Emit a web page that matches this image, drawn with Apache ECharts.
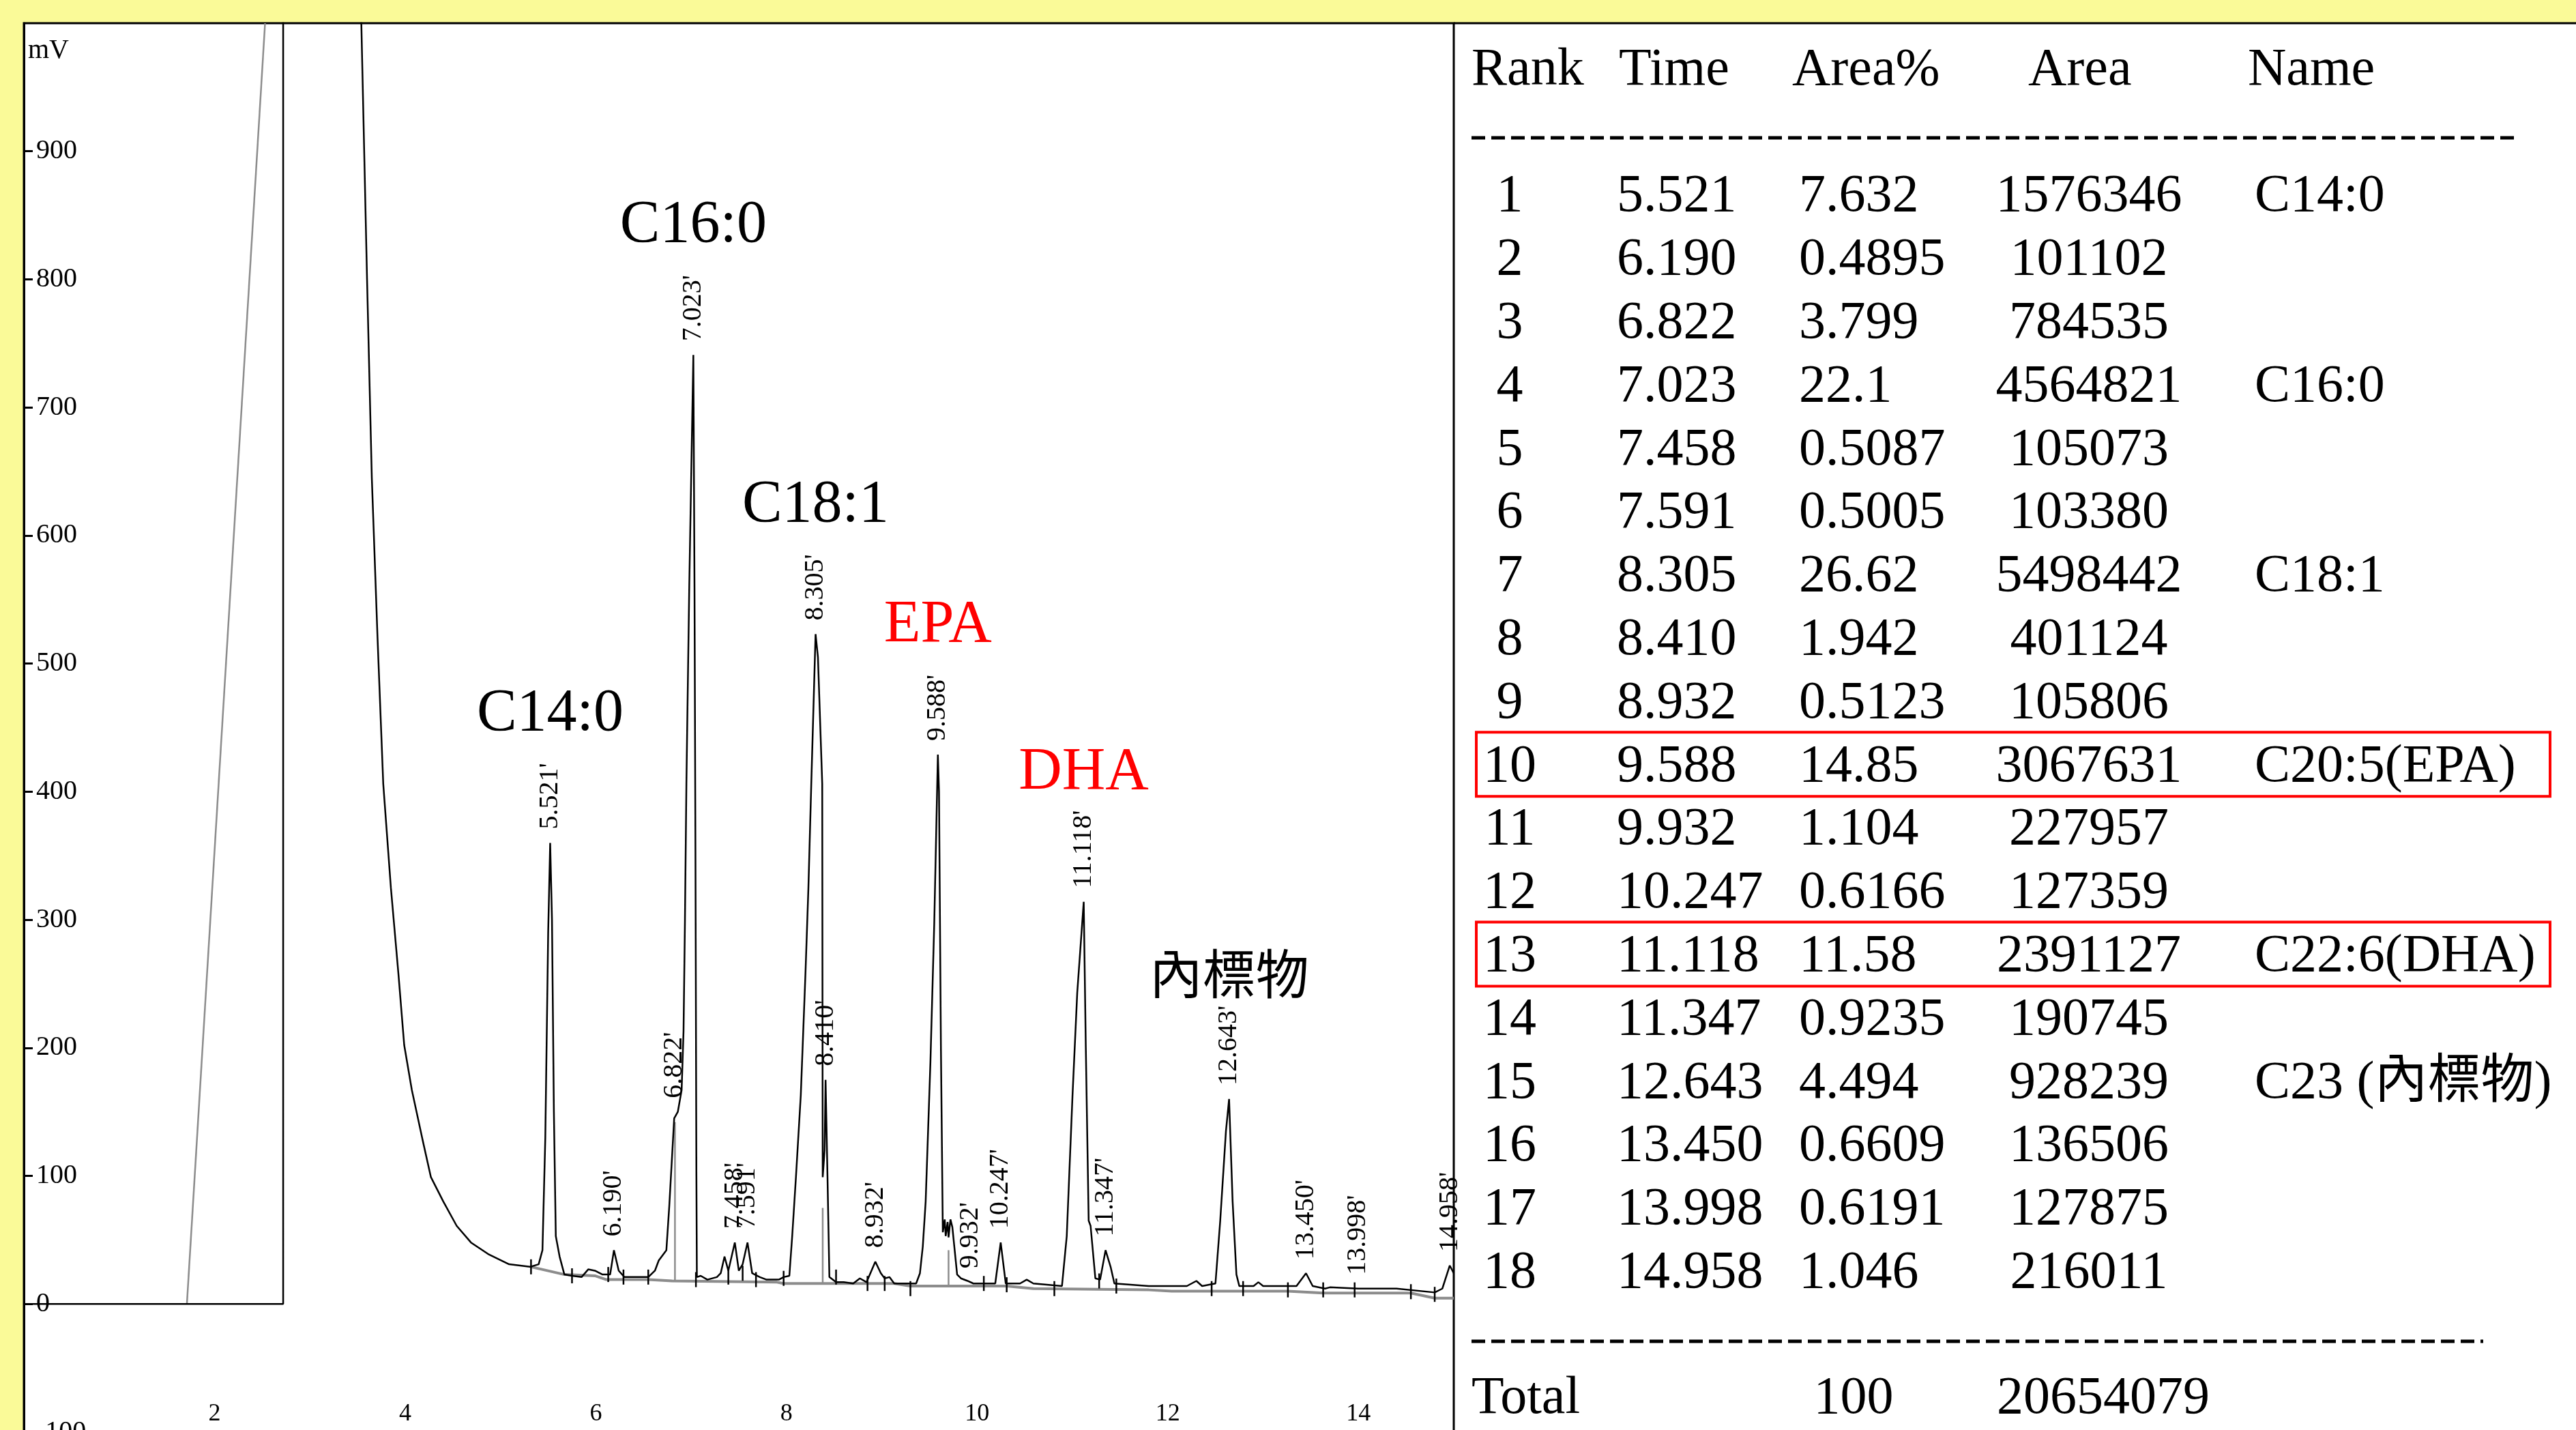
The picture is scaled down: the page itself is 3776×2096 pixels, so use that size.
<!DOCTYPE html>
<html>
<head>
<meta charset="utf-8">
<script src="https://cdn.jsdelivr.net/npm/echarts@6/dist/echarts.min.js"></script>
<style>
  html, body { margin: 0; padding: 0; background: #fafa98; }
  #chart { width: 3776px; height: 2096px; }
</style>
</head>
<body>
<div id="chart"></div>
<script>
// detector trace, [minutes, mV]
var trace = [
  [0, 0], [2.72, 0], [2.72, 1300], [3.50, 1300], [3.54, 1000], [3.60, 800], [3.65, 645], [3.71, 520],
  [3.77, 406], [3.85, 325], [3.93, 257], [3.99, 202], [4.07, 167], [4.18, 129], [4.27, 99], [4.40, 80],
  [4.54, 61], [4.69, 48], [4.87, 39], [5.09, 31], [5.31, 29], [5.40, 31], [5.44, 42], [5.47, 130],
  [5.50, 290], [5.521, 360], [5.54, 300], [5.56, 150], [5.58, 53], [5.62, 37], [5.67, 23], [5.75, 22],
  [5.85, 21], [5.92, 27], [5.99, 26], [6.07, 23], [6.15, 23], [6.19, 42], [6.24, 26], [6.30, 21],
  [6.48, 21], [6.55, 21], [6.62, 26], [6.66, 34], [6.70, 38], [6.74, 42], [6.77, 76], [6.81, 129],
  [6.822, 145], [6.86, 150], [6.90, 167], [6.92, 213], [6.935, 300], [6.95, 406], [6.98, 560], [7.023, 741],
  [7.035, 560], [7.045, 353], [7.055, 100], [7.06, 21], [7.10, 22], [7.17, 19], [7.27, 21], [7.31, 24],
  [7.35, 37], [7.39, 26], [7.458, 48], [7.50, 26], [7.54, 31], [7.591, 48], [7.64, 24], [7.72, 21],
  [7.79, 19], [7.92, 19], [7.97, 21], [8.03, 22], [8.06, 53], [8.10, 100], [8.15, 163], [8.20, 260],
  [8.23, 325], [8.26, 406], [8.305, 523], [8.33, 505], [8.375, 406], [8.38, 99], [8.40, 120], [8.41, 175],
  [8.43, 100], [8.45, 21], [8.52, 17], [8.60, 17], [8.70, 16], [8.77, 20], [8.84, 17], [8.932, 33],
  [8.99, 24], [9.03, 20], [9.08, 21], [9.13, 16], [9.36, 16], [9.40, 24], [9.43, 45], [9.46, 80],
  [9.51, 189], [9.55, 297], [9.588, 429], [9.60, 400], [9.62, 200], [9.64, 56], [9.66, 66], [9.67, 53],
  [9.69, 64], [9.70, 52], [9.72, 66], [9.74, 60], [9.79, 23], [9.83, 20], [9.90, 18], [9.96, 16],
  [10.19, 16], [10.247, 48], [10.30, 16], [10.45, 16], [10.52, 19], [10.59, 16], [10.89, 14], [10.94, 53],
  [11.00, 162], [11.05, 243], [11.118, 314], [11.14, 200], [11.17, 65], [11.19, 61], [11.24, 20], [11.29, 19],
  [11.347, 42], [11.40, 29], [11.44, 16], [11.80, 14], [12.20, 14], [12.30, 18], [12.36, 14], [12.50, 16],
  [12.55, 65], [12.61, 135], [12.643, 160], [12.68, 80], [12.72, 23], [12.75, 14], [12.90, 14], [12.95, 17],
  [13.00, 14], [13.35, 14], [13.45, 24], [13.52, 14], [13.65, 12], [13.70, 13], [13.998, 12], [14.40, 12],
  [14.80, 9], [14.88, 12], [14.958, 30], [15.0, 24]
];
// integration baseline (grey)
var baseline = [
  [5.32, 29], [5.67, 23], [5.99, 22], [6.11, 19], [6.55, 19], [6.80, 18], [7.90, 17], [7.97, 16],
  [8.52, 16], [9.13, 16], [9.30, 14], [10.31, 14], [10.59, 12], [11.80, 11], [12.04, 10], [13.26, 10],
  [13.63, 8.5], [14.55, 8.5], [14.80, 4.5], [15.0, 4.5]
];
var solventLine = [[1.71, 0], [2.53, 1000]];
// grey drop lines: [minutes, top mV, bottom mV]
var dropLines = [[6.83, 142, 18], [8.38, 75, 16], [9.70, 42, 14]];
// start / end ticks of the integrated peaks, [minutes, mV]
var peakTicks = [
  [5.32, 29], [5.75, 22], [6.13, 23], [6.29, 21], [6.55, 21], [7.05, 19], [7.39, 21], [7.54, 24],
  [7.68, 19], [7.97, 20], [8.52, 21], [8.85, 16], [9.03, 16], [9.30, 12], [10.07, 16], [10.31, 15],
  [10.81, 12], [11.28, 18], [11.46, 14], [12.46, 12], [12.79, 12], [13.26, 11], [13.63, 11], [13.96, 11],
  [14.55, 9.6], [14.80, 7.5]
];

var peakTimes = ['5.521', '6.190', '6.822', '7.023', '7.458', '7.591', '8.305', '8.410', '8.932',
  '9.588', '9.932', '10.247', '11.118', '11.347', '12.643', '13.450', '13.998', '14.958'];
var peakApex = [360, 42, 150, 741, 48, 48, 523, 175, 33, 429, 17, 48, 314, 42, 160, 24, 12, 30];

var compoundNames = ['C14:0', 'C16:0', 'C18:1', 'EPA', 'DHA', '內標物'];
var compoundPeak = [0, 3, 6, 9, 12, 14];
var redNames = ['EPA', 'DHA'];

// result table
var tblHeader = ['Rank', 'Time', 'Area%', 'Area', 'Name'];
var ranks = [1, 2, 3, 4, 5, 6, 7, 8, 9, 10, 11, 12, 13, 14, 15, 16, 17, 18];
var rtimes = peakTimes;
var areaPct = ['7.632', '0.4895', '3.799', '22.1', '0.5087', '0.5005', '26.62', '1.942', '0.5123',
  '14.85', '1.104', '0.6166', '11.58', '0.9235', '4.494', '0.6609', '0.6191', '1.046'];
var areas = ['1576346', '101102', '784535', '4564821', '105073', '103380', '5498442', '401124', '105806',
  '3067631', '227957', '127359', '2391127', '190745', '928239', '136506', '127875', '216011'];
var names = ['C14:0', '', '', 'C16:0', '', '', 'C18:1', '', '', 'C20:5(EPA)', '', '', 'C22:6(DHA)',
  '', 'C23 (內標物)', '', '', ''];
var totalPct = '100';
var totalArea = '20654079';
var boxedRanks = [10, 13];

var serif = '"Liberation Serif", "Noto Sans CJK TC", serif';

var peakData = peakTimes.map(function (t, i) { return [parseFloat(t), peakApex[i]]; });
var nameData = compoundPeak.map(function (p) { return [parseFloat(peakTimes[p]), peakApex[p]]; });

// ---- table built as graphic elements
var tbl = [];
var rowY0 = 289, rowH = 92.8;
var colX = { rank: 2213, time: 2370, pct: 2637, area: 3062, name: 3305 };
var headX = [2157, 2373, 2627, 2973, 3295];

function txt(s, x, y, align, color) {
  return {
    type: 'text', x: x, y: y,
    style: { text: s, font: '78px ' + serif, fill: color || '#000', align: align, verticalAlign: 'middle' }
  };
}

tbl.push({ type: 'rect', shape: { x: 2131, y: 34, width: 1645, height: 2062 }, style: { fill: '#fff' }, z: -1 });
tbl.push({ type: 'line', shape: { x1: 2131, y1: 34, x2: 3776, y2: 34 }, style: { stroke: '#000', lineWidth: 3 } });
tblHeader.forEach(function (h, i) { tbl.push(txt(h, headX[i], 104, 'left')); });
tbl.push({ type: 'line', shape: { x1: 2157, y1: 202, x2: 3691, y2: 202 },
  style: { stroke: '#000', lineWidth: 5, lineDash: [20, 9] } });
ranks.forEach(function (r, i) {
  var y = rowY0 + i * rowH;
  tbl.push(txt(String(r), colX.rank, y, 'center'));
  tbl.push(txt(rtimes[i], colX.time, y, 'left'));
  tbl.push(txt(areaPct[i], colX.pct, y, 'left'));
  tbl.push(txt(areas[i], colX.area, y, 'center'));
  if (names[i]) tbl.push(txt(names[i], colX.name, y, 'left'));
  if (boxedRanks.indexOf(r) >= 0) {
    tbl.push({ type: 'rect', shape: { x: 2164, y: y - 51, width: 1574, height: 94 },
      style: { fill: null, stroke: '#ff0000', lineWidth: 4 } });
  }
});
tbl.push({ type: 'line', shape: { x1: 2157, y1: 1966, x2: 3640, y2: 1966 },
  style: { stroke: '#000', lineWidth: 5, lineDash: [20, 9] } });
tbl.push(txt('Total', 2157, 2051, 'left'));
tbl.push(txt(totalPct, 2717, 2051, 'center'));
tbl.push(txt(totalArea, 3083, 2051, 'center'));
tbl.push({ type: 'text', x: 41, y: 74,
  style: { text: 'mV', font: '40px ' + serif, fill: '#000', align: 'left', verticalAlign: 'middle' } });

var chart = echarts.init(document.getElementById('chart'), null, { renderer: 'canvas' });

var option = {
  backgroundColor: '#fafa98',
  animation: false,
  grid: {
    left: 35, right: 1645, top: 34, bottom: -3,
    outerBoundsMode: 'none', containLabel: false,
    show: true, backgroundColor: '#fff', borderColor: '#000', borderWidth: 3
  },
  xAxis: {
    type: 'value', min: 0, max: 15, interval: 2,
    axisLine: { show: false }, axisTick: { show: false }, splitLine: { show: false },
    axisLabel: { inside: true, margin: 8, showMinLabel: false, showMaxLabel: false,
      color: '#000', fontFamily: serif, fontSize: 36 }
  },
  yAxis: {
    type: 'value', min: -100, max: 1000, interval: 100,
    axisLine: { show: true, lineStyle: { color: '#000', width: 3 } },
    axisTick: { show: true, inside: true, length: 13, lineStyle: { color: '#000', width: 3 } },
    splitLine: { show: false },
    axisLabel: { inside: true, margin: 18, showMaxLabel: false,
      color: '#000', fontFamily: serif, fontSize: 40 }
  },
  graphic: tbl,
  series: [
    {
      type: 'line', data: solventLine, symbol: 'none', z: 1,
      lineStyle: { color: '#8c8c8c', width: 2.5 }
    },
    {
      type: 'line', data: baseline, symbol: 'none', z: 1,
      lineStyle: { color: '#8c8c8c', width: 4 }
    },
    {
      type: 'custom', data: dropLines, z: 1,
      renderItem: function (params, api) {
        var a = api.coord([api.value(0), api.value(1)]);
        var b = api.coord([api.value(0), api.value(2)]);
        return { type: 'line', shape: { x1: a[0], y1: a[1], x2: b[0], y2: b[1] },
          style: { stroke: '#8c8c8c', lineWidth: 2.5 } };
      }
    },
    {
      type: 'line', data: trace, symbol: 'none', z: 3,
      lineStyle: { color: '#000', width: 2.5 }
    },
    {
      type: 'custom', data: peakTicks, z: 4,
      renderItem: function (params, api) {
        var p = api.coord([api.value(0), api.value(1)]);
        return { type: 'line', shape: { x1: p[0], y1: p[1] - 11, x2: p[0], y2: p[1] + 11 },
          style: { stroke: '#000', lineWidth: 2.5 } };
      }
    },
    {
      type: 'custom', data: peakData, z: 5,
      renderItem: function (params, api) {
        var p = api.coord([api.value(0), api.value(1)]);
        return { type: 'text', x: p[0], y: p[1] - 20, rotation: Math.PI / 2,
          style: { text: peakTimes[params.dataIndex] + "'", font: '40px ' + serif, fill: '#000',
            align: 'left', verticalAlign: 'middle' } };
      }
    },
    {
      type: 'custom', data: nameData, z: 5,
      renderItem: function (params, api) {
        var p = api.coord([api.value(0), api.value(1)]);
        var n = compoundNames[params.dataIndex];
        var cjk = /[\u4e00-\u9fff]/.test(n);
        return { type: 'text', x: p[0], y: p[1] - 145,
          style: { text: n, font: (cjk ? '78px "Noto Sans CJK TC"' : '88px ' + serif),
            fill: redNames.indexOf(n) >= 0 ? '#ff0000' : '#000',
            align: 'center', verticalAlign: 'bottom' } };
      }
    }
  ]
};
chart.setOption(option);
</script>
</body>
</html>
